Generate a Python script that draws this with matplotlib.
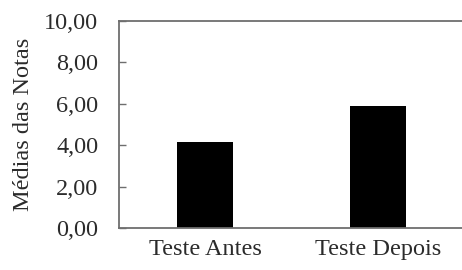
import matplotlib.pyplot as plt

categories = ['Teste Antes', 'Teste Depois']
medias = [4.15, 5.9]
yticks = [0, 2, 4, 6, 8, 10]
ytick_labels = ['0,00', '2,00', '4,00', '6,00', '8,00', '10,00']

plt.rcParams['font.family'] = ['Liberation Serif', 'DejaVu Serif']

fig = plt.figure(figsize=(4.62, 2.70), dpi=100, facecolor='white')
ax = fig.add_axes([0.2576, 0.1556, 0.748, 0.7666])

x = range(len(categories))
ax.bar(x, medias, width=0.324, color='black')

ax.set_xlim(-0.5, 1.5)
ax.set_ylim(0, 10)
ax.set_xticks(list(x))
ax.set_xticklabels(categories)
ax.set_yticks(yticks)
ax.set_yticklabels(ytick_labels)

line_col = '#6e6e6e'
text_col = '#2b2b2b'
for side in ['left', 'bottom', 'top']:
    ax.spines[side].set_color(line_col)
    ax.spines[side].set_linewidth(1.3)
ax.spines['right'].set_visible(False)

ax.tick_params(axis='y', direction='in', length=5, width=1, color=line_col,
               pad=15, labelsize=17.5, labelcolor=text_col)
ax.tick_params(axis='x', length=0, pad=8, labelsize=17.5, labelcolor=text_col)

ax.set_ylabel('Médias das Notas', fontsize=17.5, color=text_col)
ax.yaxis.set_label_coords(-0.245, 0.5)

fig.savefig('out.png', dpi=100, facecolor='white')
